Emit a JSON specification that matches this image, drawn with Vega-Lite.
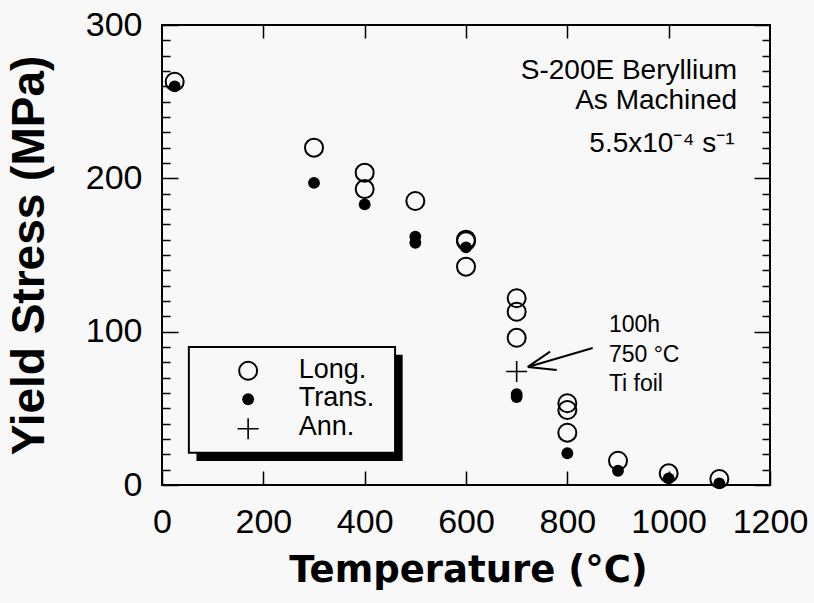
{
  "$schema": "https://vega.github.io/schema/vega-lite/v6.json",
  "width": 608,
  "height": 460,
  "autosize": {"type": "none"},
  "padding": {"left": 162, "top": 25, "right": 44, "bottom": 118},
  "background": "#f8f8f8",
  "config": {
    "view": {"stroke": "black", "strokeWidth": 2},
    "axis": {"tickColor": "black", "tickWidth": 1.5, "domain": false, "grid": false, "labelColor": "black", "titleColor": "black"}
  },
  "datasets": {
    "points": [
      {"temperature": 25, "stress": 263, "series": "Long."},
      {"temperature": 300, "stress": 220, "series": "Long."},
      {"temperature": 400, "stress": 203.7, "series": "Long."},
      {"temperature": 400, "stress": 193, "series": "Long."},
      {"temperature": 500, "stress": 185.2, "series": "Long."},
      {"temperature": 600, "stress": 160, "series": "Long."},
      {"temperature": 600, "stress": 159, "series": "Long."},
      {"temperature": 600, "stress": 142.4, "series": "Long."},
      {"temperature": 700, "stress": 121.8, "series": "Long."},
      {"temperature": 700, "stress": 113, "series": "Long."},
      {"temperature": 700, "stress": 96, "series": "Long."},
      {"temperature": 800, "stress": 53.3, "series": "Long."},
      {"temperature": 800, "stress": 48.9, "series": "Long."},
      {"temperature": 800, "stress": 34.1, "series": "Long."},
      {"temperature": 900, "stress": 15.8, "series": "Long."},
      {"temperature": 1000, "stress": 7.6, "series": "Long."},
      {"temperature": 1100, "stress": 3.9, "series": "Long."},
      {"temperature": 25, "stress": 260, "series": "Trans."},
      {"temperature": 300, "stress": 197, "series": "Trans."},
      {"temperature": 400, "stress": 183, "series": "Trans."},
      {"temperature": 500, "stress": 162, "series": "Trans."},
      {"temperature": 500, "stress": 158, "series": "Trans."},
      {"temperature": 600, "stress": 155, "series": "Trans."},
      {"temperature": 700, "stress": 59.3, "series": "Trans."},
      {"temperature": 700, "stress": 57.4, "series": "Trans."},
      {"temperature": 800, "stress": 20.7, "series": "Trans."},
      {"temperature": 900, "stress": 9.3, "series": "Trans."},
      {"temperature": 1000, "stress": 4.3, "series": "Trans."},
      {"temperature": 1100, "stress": 1.1, "series": "Trans."},
      {"temperature": 700, "stress": 74, "series": "Ann."}
    ]
  },
  "layer": [
    {
      "data": {"values": [{}]},
      "mark": {"type": "rect", "fill": "black"},
      "encoding": {
        "x": {"datum": 68, "type": "quantitative", "scale": {"domain": [0, 1200], "nice": false}, "axis": null},
        "x2": {"datum": 475},
        "y": {"datum": 85, "type": "quantitative", "scale": {"domain": [0, 300], "nice": false}, "axis": null},
        "y2": {"datum": 15.7}
      }
    },
    {
      "data": {"values": [{}]},
      "mark": {"type": "rect", "fill": "#f8f8f8", "stroke": "black", "strokeWidth": 2},
      "encoding": {
        "x": {"datum": 53, "type": "quantitative", "scale": {"domain": [0, 1200], "nice": false}, "axis": null},
        "x2": {"datum": 460},
        "y": {"datum": 90, "type": "quantitative", "scale": {"domain": [0, 300], "nice": false}, "axis": null},
        "y2": {"datum": 21}
      }
    },
    {
      "data": {"name": "points"},
      "transform": [{"filter": "datum.series === 'Long.'"}],
      "mark": {"type": "point", "shape": "circle", "filled": false, "stroke": "black", "strokeWidth": 2, "size": 324, "opacity": 1},
      "encoding": {
        "x": {
          "field": "temperature", "type": "quantitative", "title": "Temperature (°C)",
          "scale": {"domain": [0, 1200], "nice": false},
          "axis": {
            "orient": "bottom", "values": [0, 200, 400, 600, 800, 1000, 1200], "format": "d",
            "tickSize": -14, "labelFont": "Liberation Sans", "labelFontSize": 34,
            "labelBaseline": "alphabetic", "labelPadding": 61, "labelFlush": false, "labelOverlap": false,
            "title": "Temperature (°C)", "titleFont": "DejaVu Sans", "titleFontSize": 37, "titleFontWeight": "bold",
            "titleX": 306, "titleY": 96, "titleAlign": "center", "titleBaseline": "alphabetic"
          }
        },
        "y": {
          "field": "stress", "type": "quantitative", "title": "Yield Stress (MPa)",
          "scale": {"domain": [0, 300], "nice": false},
          "axis": {
            "orient": "left",
            "values": [0,10,20,30,40,50,60,70,80,90,100,110,120,130,140,150,160,170,180,190,200,210,220,230,240,250,260,270,280,290,300],
            "tickSize": {"condition": {"test": "datum.value % 100 === 0", "value": -16}, "value": -8},
            "labelExpr": "datum.value % 100 === 0 ? datum.label : ''",
            "labelFont": "Liberation Sans", "labelFontSize": 34, "labelPadding": 36, "labelOverlap": false, "labelFlush": false,
            "title": "Yield Stress (MPa)", "titleFont": "Liberation Sans", "titleFontSize": 46, "titleFontWeight": "bold",
            "titleAngle": -90, "titleX": -119, "titleY": 230, "titleAlign": "center", "titleBaseline": "alphabetic"
          }
        }
      }
    },
    {
      "data": {"name": "points"},
      "transform": [{"filter": "datum.series === 'Trans.'"}],
      "mark": {"type": "point", "shape": "circle", "filled": true, "fill": "black", "strokeWidth": 0, "size": 140, "opacity": 1},
      "encoding": {
        "x": {"field": "temperature", "type": "quantitative", "scale": {"domain": [0, 1200], "nice": false}, "axis": null},
        "y": {"field": "stress", "type": "quantitative", "scale": {"domain": [0, 300], "nice": false}, "axis": null}
      }
    },
    {
      "data": {"name": "points"},
      "transform": [{"filter": "datum.series === 'Ann.'"}],
      "mark": {"type": "point", "shape": "M-1,0H1M0,-1V1", "filled": false, "stroke": "black", "strokeWidth": 1.6, "size": 441, "opacity": 1},
      "encoding": {
        "x": {"field": "temperature", "type": "quantitative", "scale": {"domain": [0, 1200], "nice": false}, "axis": null},
        "y": {"field": "stress", "type": "quantitative", "scale": {"domain": [0, 300], "nice": false}, "axis": null}
      }
    },
    {
      "data": {"values": [{}]},
      "mark": {"type": "point", "shape": "circle", "filled": false, "stroke": "black", "strokeWidth": 2, "size": 324, "opacity": 1},
      "encoding": {
        "x": {"datum": 170, "type": "quantitative", "scale": {"domain": [0, 1200], "nice": false}, "axis": null},
        "y": {"datum": 74.5, "type": "quantitative", "scale": {"domain": [0, 300], "nice": false}, "axis": null}
      }
    },
    {
      "data": {"values": [{}]},
      "mark": {"type": "point", "shape": "circle", "filled": true, "fill": "black", "strokeWidth": 0, "size": 140, "opacity": 1},
      "encoding": {
        "x": {"datum": 170, "type": "quantitative", "scale": {"domain": [0, 1200], "nice": false}, "axis": null},
        "y": {"datum": 55.9, "type": "quantitative", "scale": {"domain": [0, 300], "nice": false}, "axis": null}
      }
    },
    {
      "data": {"values": [{}]},
      "mark": {"type": "point", "shape": "M-1,0H1M0,-1V1", "filled": false, "stroke": "black", "strokeWidth": 1.6, "size": 441, "opacity": 1},
      "encoding": {
        "x": {"datum": 170, "type": "quantitative", "scale": {"domain": [0, 1200], "nice": false}, "axis": null},
        "y": {"datum": 36.7, "type": "quantitative", "scale": {"domain": [0, 300], "nice": false}, "axis": null}
      }
    },
    {
      "data": {"values": [
        {"label": "Long.", "y": 69.5},
        {"label": "Trans.", "y": 51.2},
        {"label": "Ann.", "y": 32.3}
      ]},
      "mark": {"type": "text", "align": "left", "baseline": "alphabetic", "font": "Liberation Sans", "fontSize": 27, "color": "black"},
      "encoding": {
        "x": {"datum": 270, "type": "quantitative", "scale": {"domain": [0, 1200], "nice": false}, "axis": null},
        "y": {"field": "y", "type": "quantitative", "scale": {"domain": [0, 300], "nice": false}, "axis": null},
        "text": {"field": "label"}
      }
    },
    {
      "data": {"values": [
        {"label": "S-200E Beryllium", "x": 1135, "y": 265},
        {"label": "As Machined", "x": 1135, "y": 245.5},
        {"label": "5.5x10⁻⁴ s⁻¹", "x": 1130, "y": 217}
      ]},
      "mark": {"type": "text", "align": "right", "baseline": "alphabetic", "font": "Liberation Sans", "fontSize": 28, "color": "black"},
      "encoding": {
        "x": {"field": "x", "type": "quantitative", "scale": {"domain": [0, 1200], "nice": false}, "axis": null},
        "y": {"field": "y", "type": "quantitative", "scale": {"domain": [0, 300], "nice": false}, "axis": null},
        "text": {"field": "label"}
      }
    },
    {
      "data": {"values": [
        {"label": "100h", "x": 882, "y": 99.8},
        {"label": "750 °C", "x": 882, "y": 80.2},
        {"label": "Ti foil", "x": 882, "y": 61.3}
      ]},
      "mark": {"type": "text", "align": "left", "baseline": "alphabetic", "font": "Liberation Sans", "fontSize": 23, "color": "black"},
      "encoding": {
        "x": {"field": "x", "type": "quantitative", "scale": {"domain": [0, 1200], "nice": false}, "axis": null},
        "y": {"field": "y", "type": "quantitative", "scale": {"domain": [0, 300], "nice": false}, "axis": null},
        "text": {"field": "label"}
      }
    },
    {
      "data": {"values": [
        {"x": 850, "y": 89.4, "x2": 722, "y2": 77},
        {"x": 722, "y": 77, "x2": 766, "y2": 87},
        {"x": 722, "y": 77, "x2": 779, "y2": 75}
      ]},
      "mark": {"type": "rule", "stroke": "black", "strokeWidth": 2},
      "encoding": {
        "x": {
          "field": "x", "type": "quantitative", "scale": {"domain": [0, 1200], "nice": false},
          "axis": {"orient": "top", "values": [200, 400, 600, 800, 1000], "tickSize": -13, "labels": false, "title": null}
        },
        "y": {
          "field": "y", "type": "quantitative", "scale": {"domain": [0, 300], "nice": false},
          "axis": {
            "orient": "right",
            "values": [0,10,20,30,40,50,60,70,80,90,100,110,120,130,140,150,160,170,180,190,200,210,220,230,240,250,260,270,280,290,300],
            "tickSize": {"condition": {"test": "datum.value % 100 === 0", "value": -16}, "value": -8},
            "labels": false, "title": null
          }
        },
        "x2": {"field": "x2"},
        "y2": {"field": "y2"}
      }
    }
  ],
  "resolve": {"axis": {"x": "independent", "y": "independent"}}
}
